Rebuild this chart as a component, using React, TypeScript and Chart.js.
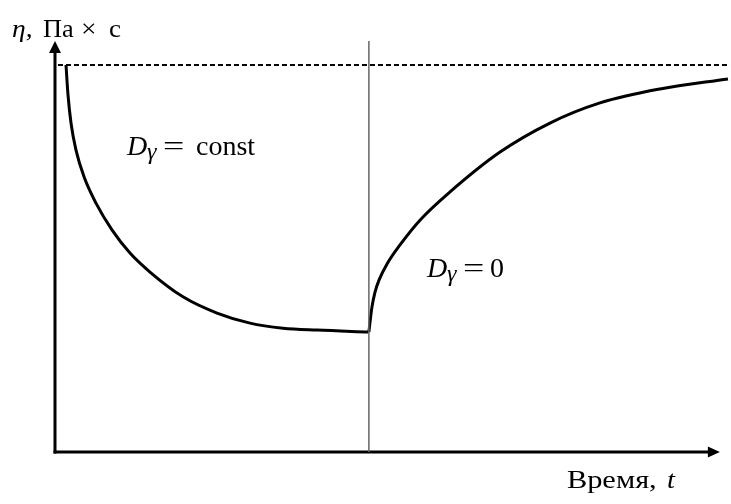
import { useEffect, useRef } from "react";
import { Chart, registerables } from "chart.js";

Chart.register(...registerables);

// Viscosity while shearing at constant rate (drop), then after the shear stops (recovery)
const tDrop = [1.63, 1.93, 2.37, 3.11, 4.3, 6.07, 8.44, 11.11, 14.07, 18.96, 24.0, 28.89, 33.78, 38.81, 46.5];
const etaDrop = [100, 92.2, 85.0, 78.0, 71.1, 64.3, 57.4, 51.4, 46.5, 40.1, 35.9, 33.3, 32.0, 31.5, 31.0];
const tRecovery = [46.5, 46.74, 46.96, 47.41, 48.0, 49.19, 51.11, 54.07, 58.52, 65.93, 73.33, 80.74, 89.63, 99.7];
const etaRecovery = [31.0, 34.6, 37.5, 41.3, 44.4, 48.6, 53.5, 59.9, 67.2, 77.5, 85.0, 90.2, 93.8, 96.4];

// Moment the shear is switched off, and the initial (rest) viscosity level
const tSwitch = 46.5;
const etaRest = 100;
const dashedFrom = 0.44;
const axisTop = 106.2;
const axisRight = 98.5;

// Annotation anchors in data units [t, eta]
const constLabelAt = [10.67, 76.7];
const zeroLabelAt = [55.1, 45.2];

const SERIF = '"Liberation Serif", "Times New Roman", serif';

type Piece = { text: string; dx: number; dy: number; size: number; italic?: boolean; sx?: number };

function drawPieces(ctx: CanvasRenderingContext2D, x: number, y: number, pieces: Piece[]) {
  ctx.save();
  ctx.fillStyle = "#000";
  ctx.textBaseline = "alphabetic";
  ctx.textAlign = "left";
  for (const p of pieces) {
    ctx.save();
    ctx.font = `${p.italic ? "italic " : ""}${p.size}px ${SERIF}`;
    ctx.translate(x + p.dx, y + p.dy);
    ctx.scale(p.sx ?? 1, 1);
    ctx.fillText(p.text, 0, 0);
    ctx.restore();
  }
  ctx.restore();
}

const axesPlugin = {
  id: "arrowAxes",
  beforeDatasetsDraw(chart: Chart) {
    const { ctx } = chart;
    const xs = chart.scales.x;
    const ys = chart.scales.y;
    const x0 = xs.getPixelForValue(0);
    const y0 = ys.getPixelForValue(0);
    const yTip = ys.getPixelForValue(axisTop);
    const xTip = xs.getPixelForValue(axisRight);
    ctx.save();
    ctx.strokeStyle = "#000";
    ctx.fillStyle = "#000";
    ctx.lineWidth = 3;
    ctx.lineCap = "butt";
    // vertical axis
    ctx.beginPath();
    ctx.moveTo(x0, y0 + 1.5);
    ctx.lineTo(x0, yTip + 10);
    ctx.stroke();
    ctx.beginPath();
    ctx.moveTo(x0, yTip);
    ctx.lineTo(x0 - 6, yTip + 12);
    ctx.lineTo(x0 + 6, yTip + 12);
    ctx.closePath();
    ctx.fill();
    // horizontal axis
    ctx.beginPath();
    ctx.moveTo(x0 - 1.5, y0);
    ctx.lineTo(xTip - 10, y0);
    ctx.stroke();
    ctx.beginPath();
    ctx.moveTo(xTip, y0);
    ctx.lineTo(xTip - 12, y0 - 5.5);
    ctx.lineTo(xTip - 12, y0 + 5.5);
    ctx.closePath();
    ctx.fill();
    ctx.restore();
  },
  afterDraw(chart: Chart) {
    const { ctx } = chart;
    const xs = chart.scales.x;
    const ys = chart.scales.y;
    const x0 = xs.getPixelForValue(0);
    const y0 = ys.getPixelForValue(0);
    const yTip = ys.getPixelForValue(axisTop);
    const xTip = xs.getPixelForValue(axisRight);

    // y-axis title
    drawPieces(ctx, x0 - 43, yTip - 4, [
      { text: "η,", dx: 0, dy: 0, size: 25, italic: true, sx: 1.1 },
      { text: "Па", dx: 31, dy: 0, size: 25, sx: 1.05 },
      { text: "×", dx: 69, dy: 0, size: 25, sx: 1.1 },
      { text: "с", dx: 97, dy: 0, size: 25, sx: 1.08 },
    ]);

    // x-axis title
    drawPieces(ctx, xTip - 153, y0 + 36, [
      { text: "Время,", dx: 0, dy: 0, size: 26, sx: 1.17 },
      { text: "t", dx: 100, dy: 0, size: 26, italic: true, sx: 1.1 },
    ]);

    // regime labels
    drawPieces(ctx, xs.getPixelForValue(constLabelAt[0]), ys.getPixelForValue(constLabelAt[1]), [
      { text: "D", dx: 0, dy: 0, size: 28, italic: true },
      { text: "γ", dx: 20, dy: 4, size: 24, italic: true },
      { text: "=", dx: 36, dy: 0, size: 28, sx: 1.35 },
      { text: "const", dx: 69, dy: 0, size: 28 },
    ]);
    drawPieces(ctx, xs.getPixelForValue(zeroLabelAt[0]), ys.getPixelForValue(zeroLabelAt[1]), [
      { text: "D", dx: 0, dy: 0, size: 28, italic: true },
      { text: "γ", dx: 20, dy: 4, size: 24, italic: true },
      { text: "=", dx: 36, dy: 0, size: 28, sx: 1.35 },
      { text: "0", dx: 63, dy: 0, size: 28 },
    ]);
  },
};

export default function App() {
  const canvasRef = useRef<HTMLCanvasElement | null>(null);

  useEffect(() => {
    const canvas = canvasRef.current;
    if (!canvas) return;
    const chart = new Chart(canvas, {
      type: "line",
      data: {
        datasets: [
          {
            label: "rest level",
            data: [
              { x: dashedFrom, y: etaRest },
              { x: 100, y: etaRest },
            ],
            borderColor: "#000",
            borderWidth: 2,
            borderDash: [5, 3],
            pointRadius: 0,
            clip: false,
          },
          {
            label: "shear off",
            data: [
              { x: tSwitch, y: 0 },
              { x: tSwitch, y: axisTop },
            ],
            borderColor: "#666",
            borderWidth: 1.5,
            pointRadius: 0,
            clip: false,
          },
          {
            label: "drop",
            data: tDrop.map((t, i) => ({ x: t, y: etaDrop[i] })),
            borderColor: "#000",
            borderWidth: 3,
            pointRadius: 0,
            cubicInterpolationMode: "monotone",
            clip: false,
          },
          {
            label: "recovery",
            data: tRecovery.map((t, i) => ({ x: t, y: etaRecovery[i] })),
            borderColor: "#000",
            borderWidth: 3,
            pointRadius: 0,
            cubicInterpolationMode: "monotone",
            clip: false,
          },
        ],
      },
      options: {
        animation: false,
        responsive: false,
        devicePixelRatio: 1,
        layout: { padding: { left: 55, right: 1, top: 65, bottom: 52 } },
        plugins: { legend: { display: false }, tooltip: { enabled: false }, title: { display: false } },
        scales: {
          x: { type: "linear", min: 0, max: 100, display: false },
          y: { type: "linear", min: 0, max: 100, display: false },
        },
      },
      plugins: [axesPlugin],
    });
    return () => chart.destroy();
  }, []);

  return (
    <div style={{ position: "fixed", left: 0, top: 0, width: 731, height: 504, background: "#fff" }}>
      <canvas ref={canvasRef} width={731} height={504} style={{ display: "block", width: 731, height: 504 }} />
    </div>
  );
}
